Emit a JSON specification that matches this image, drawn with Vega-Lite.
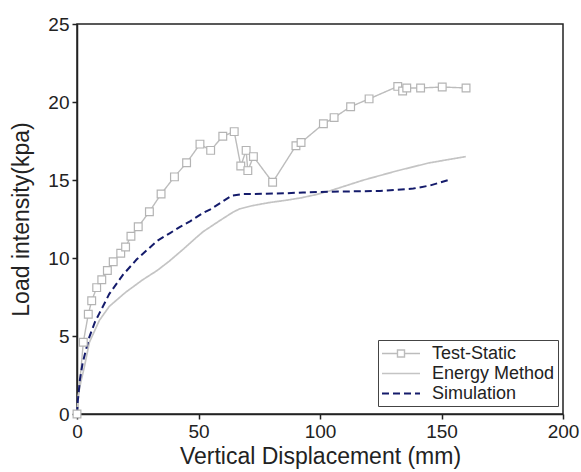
{
  "$schema": "https://vega.github.io/schema/vega-lite/v6.json",
  "width": 486,
  "height": 390,
  "autosize": {"type": "none"},
  "padding": {"left": 77, "top": 24, "right": 18, "bottom": 58},
  "config": {
    "font": "Liberation Sans",
    "view": {"stroke": "#222", "strokeWidth": 1.5},
    "axis": {
      "domainColor": "#222", "domainWidth": 1.5, "tickColor": "#222", "tickWidth": 1.5, "tickSize": 5,
      "labelFont": "Liberation Sans", "labelFontSize": 19, "labelColor": "#222", "labelFlush": false,
      "titleFont": "Liberation Sans", "titleFontSize": 23, "titleFontWeight": "normal", "titleColor": "#222",
      "grid": false
    }
  },
  "data": {"values": [
    {"series": "Test-Static", "x": 0, "y": 0},
    {"series": "Test-Static", "x": 2.6, "y": 4.6},
    {"series": "Test-Static", "x": 4.65, "y": 6.4},
    {"series": "Test-Static", "x": 6.05, "y": 7.26},
    {"series": "Test-Static", "x": 8.1, "y": 8.1},
    {"series": "Test-Static", "x": 10.2, "y": 8.6},
    {"series": "Test-Static", "x": 12.5, "y": 9.2},
    {"series": "Test-Static", "x": 14.9, "y": 9.76},
    {"series": "Test-Static", "x": 18.0, "y": 10.3},
    {"series": "Test-Static", "x": 20.0, "y": 10.7},
    {"series": "Test-Static", "x": 22.2, "y": 11.4},
    {"series": "Test-Static", "x": 25.2, "y": 12.0},
    {"series": "Test-Static", "x": 29.8, "y": 12.97},
    {"series": "Test-Static", "x": 34.6, "y": 14.1},
    {"series": "Test-Static", "x": 40.1, "y": 15.2},
    {"series": "Test-Static", "x": 45.1, "y": 16.1},
    {"series": "Test-Static", "x": 50.6, "y": 17.3},
    {"series": "Test-Static", "x": 55.0, "y": 16.9},
    {"series": "Test-Static", "x": 60.0, "y": 17.8},
    {"series": "Test-Static", "x": 64.7, "y": 18.1},
    {"series": "Test-Static", "x": 67.4, "y": 15.9},
    {"series": "Test-Static", "x": 69.6, "y": 16.9},
    {"series": "Test-Static", "x": 70.3, "y": 15.6},
    {"series": "Test-Static", "x": 72.6, "y": 16.5},
    {"series": "Test-Static", "x": 80.5, "y": 14.85},
    {"series": "Test-Static", "x": 90.1, "y": 17.2},
    {"series": "Test-Static", "x": 92.2, "y": 17.4},
    {"series": "Test-Static", "x": 101.4, "y": 18.6},
    {"series": "Test-Static", "x": 105.8, "y": 19.0},
    {"series": "Test-Static", "x": 112.6, "y": 19.7},
    {"series": "Test-Static", "x": 120.2, "y": 20.2},
    {"series": "Test-Static", "x": 132.0, "y": 21.0},
    {"series": "Test-Static", "x": 134.0, "y": 20.7},
    {"series": "Test-Static", "x": 135.7, "y": 20.9},
    {"series": "Test-Static", "x": 141.4, "y": 20.9},
    {"series": "Test-Static", "x": 150.3, "y": 20.96},
    {"series": "Test-Static", "x": 160.1, "y": 20.9},
    {"series": "Energy Method", "x": 0, "y": 0},
    {"series": "Energy Method", "x": 0.5, "y": 1.2},
    {"series": "Energy Method", "x": 1.5, "y": 2.0},
    {"series": "Energy Method", "x": 3.0, "y": 3.0},
    {"series": "Energy Method", "x": 5.1, "y": 4.6},
    {"series": "Energy Method", "x": 9.2, "y": 6.0},
    {"series": "Energy Method", "x": 13.3, "y": 6.9},
    {"series": "Energy Method", "x": 20.0, "y": 7.8},
    {"series": "Energy Method", "x": 27.0, "y": 8.6},
    {"series": "Energy Method", "x": 33.0, "y": 9.2},
    {"series": "Energy Method", "x": 38.0, "y": 9.8},
    {"series": "Energy Method", "x": 44.0, "y": 10.6},
    {"series": "Energy Method", "x": 49.0, "y": 11.3},
    {"series": "Energy Method", "x": 52.0, "y": 11.7},
    {"series": "Energy Method", "x": 58.8, "y": 12.4},
    {"series": "Energy Method", "x": 64.3, "y": 12.95},
    {"series": "Energy Method", "x": 67.0, "y": 13.15},
    {"series": "Energy Method", "x": 72.0, "y": 13.35},
    {"series": "Energy Method", "x": 79.0, "y": 13.55},
    {"series": "Energy Method", "x": 86.0, "y": 13.7},
    {"series": "Energy Method", "x": 92.0, "y": 13.85},
    {"series": "Energy Method", "x": 98.0, "y": 14.05},
    {"series": "Energy Method", "x": 104.0, "y": 14.3},
    {"series": "Energy Method", "x": 118.0, "y": 15.0},
    {"series": "Energy Method", "x": 132.0, "y": 15.6},
    {"series": "Energy Method", "x": 145.0, "y": 16.1},
    {"series": "Energy Method", "x": 160.0, "y": 16.5},
    {"series": "Simulation", "x": 0, "y": 0},
    {"series": "Simulation", "x": 0.3, "y": 0.8},
    {"series": "Simulation", "x": 0.7, "y": 1.4},
    {"series": "Simulation", "x": 1.2, "y": 2.2},
    {"series": "Simulation", "x": 2.3, "y": 3.25},
    {"series": "Simulation", "x": 3.5, "y": 4.0},
    {"series": "Simulation", "x": 5.1, "y": 4.95},
    {"series": "Simulation", "x": 7.4, "y": 5.9},
    {"series": "Simulation", "x": 9.2, "y": 6.45},
    {"series": "Simulation", "x": 13.3, "y": 7.7},
    {"series": "Simulation", "x": 18.8, "y": 8.9},
    {"series": "Simulation", "x": 24.5, "y": 9.9},
    {"series": "Simulation", "x": 33.0, "y": 11.1},
    {"series": "Simulation", "x": 38.3, "y": 11.6},
    {"series": "Simulation", "x": 42.4, "y": 12.0},
    {"series": "Simulation", "x": 46.5, "y": 12.35},
    {"series": "Simulation", "x": 52.0, "y": 12.9},
    {"series": "Simulation", "x": 54.7, "y": 13.1},
    {"series": "Simulation", "x": 60.2, "y": 13.65},
    {"series": "Simulation", "x": 63.7, "y": 14.0},
    {"series": "Simulation", "x": 68.4, "y": 14.1},
    {"series": "Simulation", "x": 72.6, "y": 14.1},
    {"series": "Simulation", "x": 86.3, "y": 14.15},
    {"series": "Simulation", "x": 93.0, "y": 14.2},
    {"series": "Simulation", "x": 104.0, "y": 14.25},
    {"series": "Simulation", "x": 124.7, "y": 14.3},
    {"series": "Simulation", "x": 138.4, "y": 14.45},
    {"series": "Simulation", "x": 145.3, "y": 14.65},
    {"series": "Simulation", "x": 152.8, "y": 15.0}
  ]},
  "encoding": {
    "x": {"field": "x", "type": "quantitative", "scale": {"domain": [0, 200], "nice": false, "zero": false},
          "axis": {"values": [0, 50, 100, 150, 200], "title": "Vertical Displacement (mm)", "labelPadding": 3, "titlePadding": 4}},
    "y": {"field": "y", "type": "quantitative", "scale": {"domain": [0, 25], "nice": false},
          "axis": {"values": [0, 5, 10, 15, 20, 25], "title": "Load intensity(kpa)", "labelPadding": 3, "titlePadding": 14}}
  },
  "layer": [
    {
      "mark": {"type": "line", "interpolate": "linear"},
      "encoding": {
        "color": {"field": "series", "type": "nominal",
          "scale": {"domain": ["Test-Static", "Energy Method", "Simulation"], "range": ["#bcbcbc", "#c4c4c4", "#141b6b"]},
          "legend": {
            "title": null, "orient": "none", "legendX": 301, "legendY": 316,
            "strokeColor": "#444", "fillColor": "white", "padding": 3, "rowPadding": 0,
            "symbolSize": 361, "symbolType": "M-1,0H3", "labelOffset": 30,
            "labelFont": "Liberation Sans", "labelFontSize": 18, "labelColor": "#222",
            "encode": {
              "symbols": {"update": {
                "shape": {"signal": "datum.value === 'Test-Static' ? 'M-1,0H0.63M1.37,0H3M0.63,-0.37H1.37V0.37H0.63Z' : 'M-1,0H3'"},
                "fill": {"value": "white"},
                "strokeWidth": {"signal": "datum.value === 'Simulation' ? 3 : (datum.value === 'Energy Method' ? 2 : 1.5)"}
              }}
            }
          }},
        "strokeDash": {"field": "series", "type": "nominal",
          "scale": {"domain": ["Test-Static", "Energy Method", "Simulation"], "range": [[1, 0], [1, 0], [7, 4]]}},
        "strokeWidth": {"field": "series", "type": "ordinal",
          "scale": {"domain": ["Test-Static", "Energy Method", "Simulation"], "range": [1.4, 2, 3.2]}, "legend": null}
      }
    },
    {
      "transform": [{"filter": "datum.series === 'Test-Static'"}],
      "mark": {"type": "point", "shape": "square", "filled": true, "fill": "white", "stroke": "#b4b4b4", "strokeWidth": 1.2, "size": 60, "opacity": 1}
    }
  ]
}
